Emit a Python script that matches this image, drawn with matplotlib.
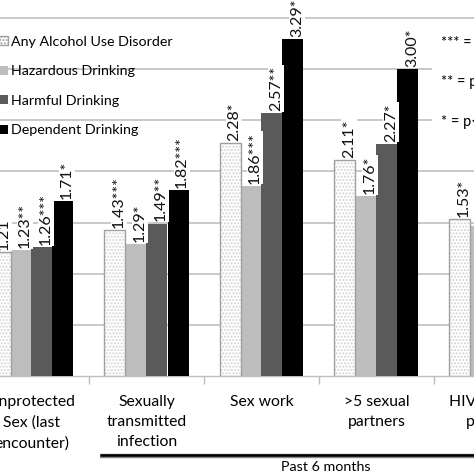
import numpy as np
import matplotlib
matplotlib.use("Agg")
import matplotlib.pyplot as plt
import matplotlib.transforms as mtransforms
from matplotlib.patches import Patch

plt.rcParams['font.family'] = ['Lato', 'DejaVu Sans']

categories = ["Unprotected\nSex (last\nencounter)", "Sexually\ntransmitted\ninfection",
              "Sex work", ">5 sexual\npartners", "HIV positive\npartner"]
series_names = ["Any Alcohol Use Disorder", "Hazardous Drinking",
                "Harmful Drinking", "Dependent Drinking"]

any_aud = [1.21, 1.43, 2.28, 2.11, 1.53]
hazardous = [1.23, 1.29, 1.86, 1.76, 1.47]
harmful = [1.26, 1.49, 2.57, 2.27, np.nan]
dependent = [1.71, 1.82, 3.29, 3.00, np.nan]

any_lbl = ["1.21", "1.43***", "2.28*", "2.11*", "1.53*"]
haz_lbl = ["1.23**", "1.29*", "1.86***", "1.76*", ""]
harm_lbl = ["1.26***", "1.49**", "2.57**", "2.27*", ""]
dep_lbl = ["1.71*", "1.82***", "3.29*", "3.00*", ""]

sig_notes = ["*** = p<0.001", "** = p<0.01", "* = p<0.05"]


def main():
    fig = plt.figure(figsize=(4.74, 4.74), dpi=100)
    # chart is cropped: axes run past the left and right edges of the image
    ax = fig.add_axes([0, 98 / 474, 1, 3.55 * 102.3 / 474])

    x = np.arange(len(categories))
    w = 21 / 115
    offs = np.array([-1.5, -0.5, 0.5, 1.5]) * w

    # Any AUD: white with fine dots
    ax.bar(x + offs[0], any_aud, w, color='white', edgecolor='#d4d4d4',
           hatch='.....', linewidth=0, zorder=3)
    ax.bar(x + offs[0], any_aud, w, facecolor='none', edgecolor='#a0a0a0',
           linewidth=1.0, zorder=4)
    ax.bar(x + offs[1], hazardous, w, color='#bdbdbd', zorder=3)
    ax.bar(x + offs[2], harmful, w, color='#5a5a5a', zorder=3)
    ax.bar(x + offs[3], dependent, w, color='black', zorder=3)

    for k, (vals, lbls) in enumerate([(any_aud, any_lbl), (hazardous, haz_lbl),
                                      (harmful, harm_lbl), (dependent, dep_lbl)]):
        for i, (v, t) in enumerate(zip(vals, lbls)):
            if not t or np.isnan(v):
                continue
            ax.annotate(t, (x[i] + offs[k], v), xytext=(3, 1.5),
                        textcoords='offset points', rotation=90,
                        ha='center', va='bottom', fontsize=11.5, color='#111111',
                        bbox=dict(boxstyle='square,pad=0.05', fc='white', ec='none'),
                        zorder=5, annotation_clip=False)

    # grid and axes
    ax.set_yticks(np.arange(0.5, 3.51, 0.5))
    ax.yaxis.grid(True, color='#c0c0c0', linewidth=1.2)
    ax.set_axisbelow(True)
    ax.tick_params(axis='y', left=False, labelleft=False)
    for s in ['top', 'right', 'left']:
        ax.spines[s].set_visible(False)
    ax.spines['bottom'].set_color('#bfbfbf')
    ax.spines['bottom'].set_linewidth(1.0)

    ax.set_xticks([])
    ax.set_xticks(x[:-1] + 0.5, minor=True)
    ax.tick_params(axis='x', which='minor', length=6, color='#bfbfbf', width=1)
    ax.set_xlim(-31.5 / 115, (474 - 31.5) / 115)
    ax.set_ylim(0, 3.55)

    # category labels as plain texts (the last group is half outside the view)
    trans = mtransforms.blended_transform_factory(ax.transData, ax.transAxes)
    for xi, cat in zip(x, categories):
        ax.text(xi, -0.053, cat, transform=trans, ha='center', va='top',
                fontsize=11.3, linespacing=1.55, multialignment='center',
                clip_on=False)

    # legend on the left
    handles = [Patch(facecolor='white', edgecolor='#a0a0a0', hatch='.....'),
               Patch(facecolor='#bdbdbd'), Patch(facecolor='#5a5a5a'),
               Patch(facecolor='black')]
    ax.legend(handles, series_names, loc='upper left',
              bbox_to_anchor=(-1 / 474, 1 - 36 / 474),
              bbox_transform=fig.transFigure, frameon=False, fontsize=10.3,
              handlelength=0.6, handleheight=0.6, handletextpad=0.25,
              labelspacing=1.22, borderpad=0, borderaxespad=0)

    # significance notes
    fig.text(441 / 474, 1 - 36 / 474, "\n".join(sig_notes), ha='left', va='top',
             fontsize=10.5, linespacing=3.3,
             bbox=dict(boxstyle='square,pad=0.6', fc='white', ec='none'))

    # "Past 6 months" bracket
    ax.plot([0.6, 4.5], [-0.219, -0.219], color='#888888', lw=3.2,
            transform=trans, clip_on=False, solid_capstyle='butt')
    ax.plot([0.6, 4.5], [-0.217, -0.217], color='black', lw=1.8,
            transform=trans, clip_on=False, solid_capstyle='butt')
    ax.text(2.56, -0.250, "Past 6 months", transform=trans, ha='center',
            va='center', fontsize=10.3)
    ax.set_xlim(-31.5 / 115, (474 - 31.5) / 115)

    fig.savefig("out.png", dpi=100)


if __name__ == "__main__":
    main()
